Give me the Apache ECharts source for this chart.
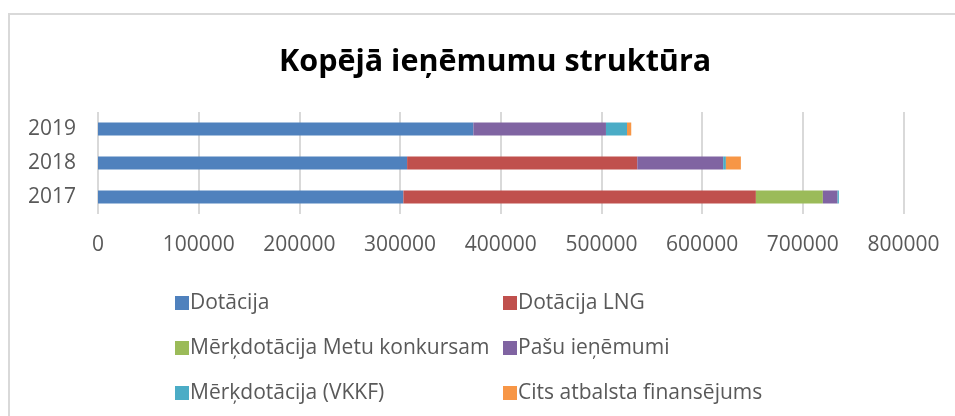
<!DOCTYPE html>
<html>
<head>
<meta charset="utf-8">
<script src="https://cdn.jsdelivr.net/npm/echarts@6/dist/echarts.min.js"></script>
<style>
  html, body { margin: 0; padding: 0; background: #fff; }
  #chart { width: 955px; height: 416px; }
</style>
</head>
<body>
<div id="chart"></div>
<script>
// Years (bottom to top) and tick labels
const years = ['2017', '2018', '2019'];
const seriesNames = [
    'Dotācija',
    'Dotācija LNG',
    'Mērķdotācija Metu konkursam',
    'Pašu ieņēmumi',
    'Mērķdotācija (VKKF)',
    'Cits atbalsta finansējums'
];
const colors = ['#4f81bd', '#c0504d', '#9bbb59', '#8064a2', '#4bacc6', '#f79646'];

// Values, order 2017, 2018, 2019
const dotacija = [303300, 307000, 372800];
const dotacijaLng = [350100, 228600, 0];
const merkdotacijaMetu = [66500, 0, 0];
const pasuIenemumi = [14600, 85300, 131700];
const merkdotacijaVkkf = [1300, 2700, 20900];
const citsFinansejums = [0, 14900, 4200];

const allValues = [dotacija, dotacijaLng, merkdotacijaMetu, pasuIenemumi, merkdotacijaVkkf, citsFinansejums];

const FONT = 'Open Sans';
const TEXT = '#595959';

const chart = echarts.init(document.getElementById('chart'));

const series = seriesNames.map((name, i) => ({
    name: name,
    type: 'bar',
    stack: 'total',
    barWidth: 13,
    itemStyle: { color: colors[i] },
    data: allValues[i]
}));

function legendBlock(left, names) {
    return {
        orient: 'vertical',
        left: left,
        top: 287,
        itemWidth: 14,
        itemHeight: 14,
        itemGap: 23,
        icon: 'rect',
        data: names,
        textStyle: { fontFamily: FONT, fontSize: 21, lineHeight: 22, color: TEXT, padding: [0, 0, 0, -4] }
    };
}

chart.setOption({
    animation: false,
    title: {
        text: 'Kopējā ieņēmumu struktūra',
        left: 274,
        top: 42,
        textStyle: { fontFamily: FONT, fontSize: 30.5, fontWeight: 'bold', color: '#000' }
    },
    legend: [
        legendBlock(170, [seriesNames[0], seriesNames[2], seriesNames[4]]),
        legendBlock(498, [seriesNames[1], seriesNames[3], seriesNames[5]])
    ],
    grid: { left: 98, right: 51.5, top: 112, bottom: 202, containLabel: false },
    xAxis: {
        type: 'value',
        min: 0,
        max: 800000,
        interval: 100000,
        axisLine: { show: false },
        axisTick: { show: false },
        splitLine: { lineStyle: { color: '#d9d9d9', width: 2 } },
        axisLabel: {
            fontFamily: FONT, fontSize: 21, color: TEXT, margin: 21,
            formatter: (v) => String(v)
        }
    },
    yAxis: {
        type: 'category',
        data: years,
        axisLine: { show: false },
        axisTick: { show: false },
        axisLabel: { fontFamily: FONT, fontSize: 21, color: TEXT, margin: 22 }
    },
    graphic: [{
        type: 'rect',
        shape: { x: 9, y: 14, width: 980, height: 440 },
        style: { fill: 'none', stroke: '#d9d9d9', lineWidth: 2 },
        silent: true
    }],
    series: series
});
</script>
</body>
</html>
